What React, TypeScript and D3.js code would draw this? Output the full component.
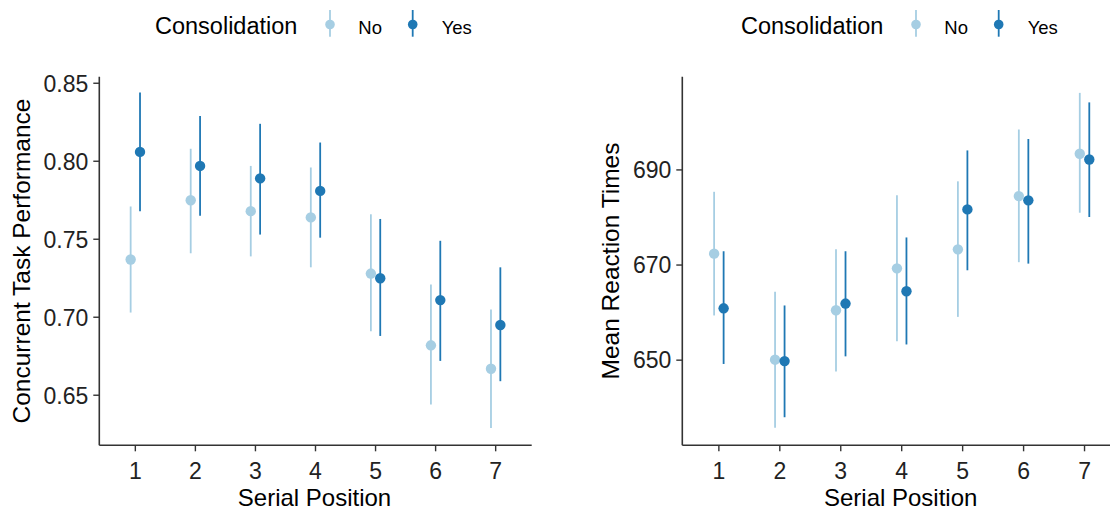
import React from "react";
import * as d3 from "d3";

const positions = [1, 2, 3, 4, 5, 6, 7];
const groups = ["No", "Yes"];
const groupColors = ["#a6cee3", "#1f78b4"];

const perfNo = [0.737, 0.775, 0.768, 0.764, 0.728, 0.682, 0.667];
const perfNoLo = [0.703, 0.741, 0.739, 0.732, 0.691, 0.644, 0.629];
const perfNoHi = [0.771, 0.808, 0.797, 0.796, 0.766, 0.721, 0.705];
const perfYes = [0.806, 0.797, 0.789, 0.781, 0.725, 0.711, 0.695];
const perfYesLo = [0.768, 0.765, 0.753, 0.751, 0.688, 0.672, 0.659];
const perfYesHi = [0.844, 0.829, 0.824, 0.812, 0.763, 0.749, 0.732];

const rtNo = [672.4, 650.1, 660.5, 669.3, 673.3, 684.5, 693.4];
const rtNoLo = [659.4, 635.8, 647.6, 654.0, 659.1, 670.6, 681.0];
const rtNoHi = [685.4, 664.4, 673.3, 684.7, 687.6, 698.5, 706.2];
const rtYes = [660.9, 649.8, 661.9, 664.5, 681.7, 683.6, 692.2];
const rtYesLo = [649.2, 638.0, 650.8, 653.3, 668.9, 670.3, 680.1];
const rtYesHi = [672.9, 661.5, 672.9, 675.8, 694.1, 696.5, 704.2];

const perfTicks = [0.65, 0.7, 0.75, 0.8, 0.85];
const rtTicks = [650, 670, 690];

const FONT = "'Liberation Sans', Arial, sans-serif";
const AXIS = "#333333";

type Series = { mean: number[]; lo: number[]; hi: number[] };

function Panel(props: {
  x0: number;
  x1: number;
  yDomain: [number, number];
  ticks: number[];
  fmt: (v: number) => string;
  yTitle: string;
  yTitleX: number;
  series: Series[];
  legendX: number;
  titleShift: number;
}) {
  const top = 76.7;
  const bottom = 445.3;
  const x = d3.scaleLinear().domain([0.4, 7.6]).range([props.x0, props.x1]);
  const y = d3.scaleLinear().domain(props.yDomain).range([bottom, top]);
  const dodge = [-0.078, 0.078];
  const cy = (top + bottom) / 2;
  const lx = props.legendX;
  return (
    <g>
      {/* legend */}
      <text x={lx} y={34} fontSize={23.5} fill="#000" fontFamily={FONT}>
        Consolidation
      </text>
      {groups.map((g, i) => (
        <g key={g}>
          <line
            x1={lx + 175 + i * 82.7}
            x2={lx + 175 + i * 82.7}
            y1={10}
            y2={36.7}
            stroke={groupColors[i]}
            strokeWidth={1.8}
          />
          <circle cx={lx + 175 + i * 82.7} cy={24.5} r={4.8} fill={groupColors[i]} />
          <text x={lx + 203.3 + i * 83.4} y={33.5} fontSize={18.5} fill="#000" fontFamily={FONT}>
            {g}
          </text>
        </g>
      ))}
      {/* axes */}
      <line x1={props.x0} x2={props.x0} y1={top} y2={bottom} stroke={AXIS} strokeWidth={1.6} />
      <line x1={props.x0} x2={props.x1} y1={bottom} y2={bottom} stroke={AXIS} strokeWidth={1.6} />
      {props.ticks.map((t) => (
        <g key={t}>
          <line x1={props.x0 - 6} x2={props.x0} y1={y(t)} y2={y(t)} stroke={AXIS} strokeWidth={1.4} />
          <text
            x={props.x0 - 11}
            y={y(t)}
            dy="0.36em"
            textAnchor="end"
            fontSize={23}
            fill="#222"
            fontFamily={FONT}
          >
            {props.fmt(t)}
          </text>
        </g>
      ))}
      {positions.map((p) => (
        <g key={p}>
          <line x1={x(p)} x2={x(p)} y1={bottom} y2={bottom + 6} stroke={AXIS} strokeWidth={1.4} />
          <text
            x={x(p)}
            y={bottom + 25}
            dy="0.36em"
            textAnchor="middle"
            fontSize={23}
            fill="#222"
            fontFamily={FONT}
          >
            {p}
          </text>
        </g>
      ))}
      <text
        x={(props.x0 + props.x1) / 2 + props.titleShift}
        y={506}
        textAnchor="middle"
        fontSize={24}
        fill="#000"
        fontFamily={FONT}
      >
        Serial Position
      </text>
      <text
        transform={`translate(${props.yTitleX},${cy}) rotate(-90)`}
        textAnchor="middle"
        fontSize={24.5}
        fill="#000"
        fontFamily={FONT}
      >
        {props.yTitle}
      </text>
      {/* data */}
      {props.series.map((s, gi) => (
        <g key={gi}>
          {positions.map((p, i) => (
            <line
              key={"e" + p}
              x1={x(p + dodge[gi])}
              x2={x(p + dodge[gi])}
              y1={y(s.lo[i])}
              y2={y(s.hi[i])}
              stroke={groupColors[gi]}
              strokeWidth={1.8}
            />
          ))}
          {positions.map((p, i) => (
            <circle
              key={"p" + p}
              cx={x(p + dodge[gi])}
              cy={y(s.mean[i])}
              r={5.2}
              fill={groupColors[gi]}
            />
          ))}
        </g>
      ))}
    </g>
  );
}

export default function App() {
  return (
    <svg
      width={1110}
      height={510}
      style={{ position: "absolute", left: 0, top: 0, background: "#fff" }}
    >
      <rect width={1110} height={510} fill="#fff" />
      <Panel
        x0={99.3}
        x1={531.7}
        yDomain={[0.6179, 0.8542]}
        ticks={perfTicks}
        fmt={(v) => v.toFixed(2)}
        yTitle="Concurrent Task Performance"
        yTitleX={30}
        series={[
          { mean: perfNo, lo: perfNoLo, hi: perfNoHi },
          { mean: perfYes, lo: perfYesLo, hi: perfYesHi },
        ]}
        legendX={155}
        titleShift={-1}
      />
      <Panel
        x0={682.3}
        x1={1121.1}
        yDomain={[632.1, 709.6]}
        ticks={rtTicks}
        fmt={(v) => String(v)}
        yTitle="Mean Reaction Times"
        yTitleX={619}
        series={[
          { mean: rtNo, lo: rtNoLo, hi: rtNoHi },
          { mean: rtYes, lo: rtYesLo, hi: rtYesHi },
        ]}
        legendX={741}
        titleShift={-1}
      />
    </svg>
  );
}
